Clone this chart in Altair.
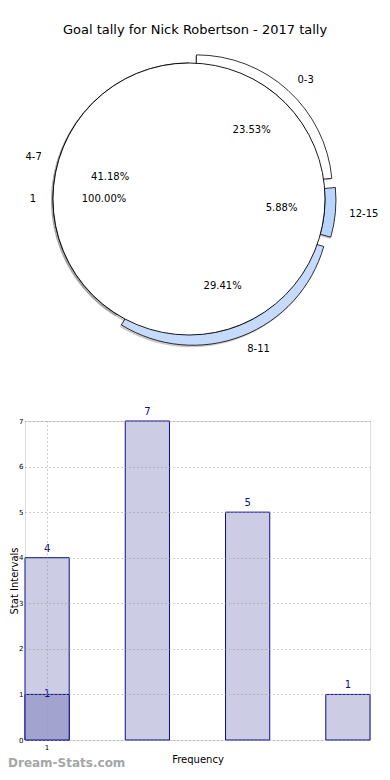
import json
import math
import altair as alt
import pandas as pd

# ---------------- data ----------------
TITLE = "Goal tally for Nick Robertson - 2017 tally"
INTERVALS = ["0-3", "4-7", "8-11", "12-15"]
GOALS = [4, 7, 5, 1]
INNER_LABELS = ["1"]
INNER_VALUES = [1]
X_TICK_LABELS = ["1"]
Y_TITLE = "Stat Intervals"
X_TITLE = "Frequency"
WATERMARK = "Dream-Stats.com"

# ---------------- styling / layout ----------------
PIE_ORDER = ["0-3", "12-15", "8-11", "4-7"]      # clockwise from 12 o'clock
EXPLODED = ["0-3", "12-15", "8-11"]
EXPLODE_PX = 11
RING_COLORS = ["#ffffff", "#ffffff", "#c6dbfb", "#b9d4ff"]   # in INTERVALS order
FONT = "DejaVu Sans"
NAVY = "#0c0c8e"
PAD_L, PAD_T, PAD_R, PAD_B = 17, 413, 12, 31
W, H = 345, 319
CX, CY = 189 - 8 - PAD_L, 199 - 8 - PAD_T      # pie centre relative to the bar plot area
R = 136
RW = 11

ring_df = pd.DataFrame({"interval": INTERVALS, "goals": GOALS})
inner_df = pd.DataFrame({"label": INNER_LABELS, "value": INNER_VALUES})

theta_scale = alt.Scale(domain=[0, 1])


def stacked(chart, field):
    return (
        chart.transform_joinaggregate(total=f"sum({field})")
        .transform_calculate(frac=f"datum.{field} / datum.total")
    )


ring = (
    stacked(alt.Chart(ring_df), "goals")
    .transform_calculate(ord=f"indexof({json.dumps(PIE_ORDER)}, datum.interval)")
    .transform_stack(stack="frac", groupby=[], as_=["t0", "t1"], sort=[alt.SortField("ord")])
    .transform_calculate(
        mid="(datum.t0 + datum.t1) / 2",
        pct="format(datum.frac * 100, '.2f') + '%'",
        ex=f"indexof({json.dumps(EXPLODED)}, datum.interval) >= 0 ? {EXPLODE_PX} : 0",
    )
    .transform_calculate(
        dx="datum.ex * sin(2 * PI * datum.mid)",
        dy="-datum.ex * cos(2 * PI * datum.mid)",
    )
)

inner = (
    stacked(alt.Chart(inner_df), "value")
    .transform_stack(stack="frac", groupby=[], as_=["t0", "t1"])
    .transform_calculate(pct="format(datum.frac * 100, '.2f') + '%'")
)

pos = dict(x=alt.value(CX), y=alt.value(CY))
off = dict(xOffset=alt.XOffset("dx:Q", scale=None), yOffset=alt.YOffset("dy:Q", scale=None))
arc_enc = dict(
    theta=alt.Theta("t0:Q", scale=theta_scale, stack=None),
    theta2="t1:Q",
    **pos,
)
ring_color = alt.Color("interval:N", scale=alt.Scale(domain=INTERVALS, range=RING_COLORS), legend=None)

shadow = inner.mark_arc(outerRadius=R + 0.5, fill="#666666", opacity=0.35).encode(
    theta=alt.Theta("t0:Q", scale=theta_scale, stack=None), theta2="t1:Q",
    x=alt.value(CX - 1.5), y=alt.value(CY + 1.5),
)
ring_shadow = ring.mark_arc(innerRadius=R - RW, outerRadius=R + 0.5, fill="#666666", opacity=0.35).encode(
    theta=alt.Theta("t0:Q", scale=theta_scale, stack=None), theta2="t1:Q",
    x=alt.value(CX - 1.5), y=alt.value(CY + 1.5), **off,
)
ring_arcs = ring.mark_arc(
    innerRadius=R - RW, outerRadius=R, stroke="black", strokeWidth=0.8
).encode(color=ring_color, **arc_enc, **off)
inner_pie = inner.mark_arc(outerRadius=R, fill="white", stroke="black", strokeWidth=0.9).encode(**arc_enc)

txt = dict(font=FONT, fontSize=10, color="black", baseline="middle")
mid_theta = alt.Theta("mid:Q", scale=theta_scale, stack=None)
ring_lbl_r = ring.transform_filter("datum.mid < 0.5").mark_text(radius=150, align="left", **txt).encode(
    theta=mid_theta, text="interval:N", **pos, **off)
ring_lbl_l = ring.transform_filter("datum.mid >= 0.5").mark_text(radius=153, align="right", **txt).encode(
    theta=mid_theta, text="interval:N", **pos, **off)
ring_pct = ring.mark_text(radius=82, align="center", **txt).encode(theta=mid_theta, text="pct:N", **pos, **off)
inner_lbl = inner.mark_text(theta=3 * math.pi / 2, radius=153, align="right", **txt).encode(text="label:N", **pos)
inner_pct = inner.mark_text(theta=3 * math.pi / 2, radius=85, align="center", **txt).encode(text="pct:N", **pos)

# ---------------- bar chart ----------------
first = INTERVALS[0]
x_enc = alt.X(
    "interval:N",
    sort=INTERVALS,
    scale=alt.Scale(domain=INTERVALS, paddingInner=0.559, paddingOuter=0),
    axis=alt.Axis(
        title=X_TITLE, labelExpr=f"datum.value === '{first}' ? '{X_TICK_LABELS[0]}' : ''",
        ticks=False, grid=True, bandPosition=0.5,
        gridOpacity={"condition": {"test": f"datum.value === '{first}'", "value": 1}, "value": 0},
        gridDash=[1, 3], gridColor="#9a9a9a", labelAngle=0, labelFontSize=7, labelPadding=3,
        titleFontSize=10, titlePadding=4, domain=False, zindex=1, labelColor="black",
        titleColor="black", labelFont=FONT, titleFont=FONT, titleFontWeight="normal",
    ),
)
y_enc = alt.Y(
    "goals:Q",
    scale=alt.Scale(nice=False, zero=True),
    axis=alt.Axis(
        title=Y_TITLE, values=list(range(max(GOALS) + 1)), ticks=False, grid=True,
        gridDash=[1, 3], gridColor="#9a9a9a", labelFontSize=7, labelPadding=2,
        titleFontSize=10, titleX=-11, titleY=H / 2, titleAngle=270, titleAlign="center",
        titleBaseline="middle", domain=False, zindex=1, labelColor="black",
        titleColor="black", labelFont=FONT, titleFont=FONT, titleFontWeight="normal",
    ),
)

bars = alt.Chart(ring_df).mark_bar(fill="#ccccE4", stroke=NAVY, strokeWidth=1).encode(x=x_enc, y=y_enc)
bar_lbl = alt.Chart(ring_df).mark_text(dy=-9, color=NAVY, font=FONT, fontSize=10, baseline="middle").encode(
    x=alt.X("interval:N", sort=INTERVALS), y="goals:Q", text="goals:Q")

over = alt.Chart(inner_df).transform_calculate(interval=f"'{first}'")
over_bar = over.mark_bar(fill="#a3a3cf", stroke=NAVY, strokeWidth=1).encode(
    x=alt.X("interval:N", sort=INTERVALS), y=alt.Y("value:Q"))
over_lbl = over.mark_text(dy=0, color=NAVY, font=FONT, fontSize=10, baseline="middle").encode(
    x=alt.X("interval:N", sort=INTERVALS), y=alt.Y("value:Q"), text="label:N")

title = alt.Chart(pd.DataFrame({"t": [TITLE]})).mark_text(
    font=FONT, fontSize=13, color="black", baseline="middle", align="center"
).encode(text="t:N", x=alt.value(195 - 8 - PAD_L), y=alt.value(30 - 8 - PAD_T))
wm = alt.Chart(pd.DataFrame({"t": [WATERMARK]})).mark_text(
    font=FONT, fontSize=12, fontWeight="bold", color="#a6a6a6", baseline="middle", align="left"
).encode(text="t:N", x=alt.value(-PAD_L), y=alt.value(763 - 8 - PAD_T))

chart = alt.layer(
    ring_shadow, shadow, ring_arcs, inner_pie,
    ring_lbl_r, ring_lbl_l, ring_pct, inner_lbl, inner_pct,
    bars, over_bar, bar_lbl, over_lbl, title, wm,
).properties(
    width=W, height=H,
    autosize=alt.AutoSizeParams(type="none"),
    padding={"left": PAD_L, "top": PAD_T, "right": PAD_R, "bottom": PAD_B},
).configure_view(stroke="black", strokeWidth=1).configure(background="white")

chart.save("out.html", embed_options={"renderer": "svg", "actions": False})
